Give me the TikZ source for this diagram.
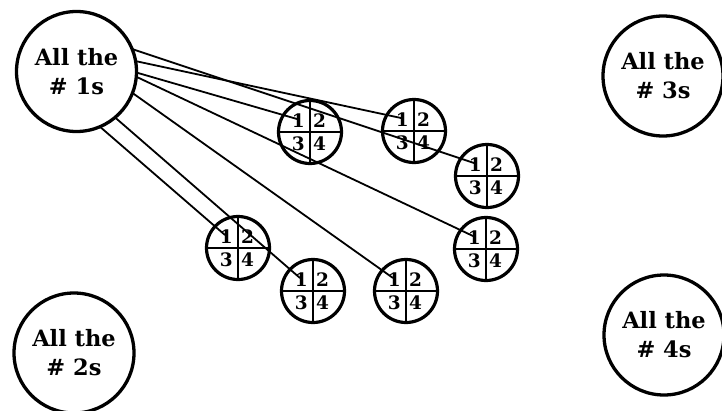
\documentclass[tikz,border=0pt]{standalone}
\usepackage{fontspec}
\setmainfont{DejaVu Serif}
\begin{document}
\begin{tikzpicture}[x=1pt,y=-1pt,
  big/.style={circle,draw,line width=3.3pt,minimum size=120pt,inner sep=0pt,outer sep=0pt,
    align=center,font=\bfseries\fontsize{22.5}{29}\selectfont},
  small/.style={circle,draw,line width=3.2pt,minimum size=63pt,inner sep=0pt,outer sep=0pt},
  quadline/.style={line width=2.6pt},
  digit/.style={inner sep=0pt,font=\bfseries\fontsize{18.5}{18}\selectfont},
  conn/.style={line width=1.8pt}]
\useasboundingbox (0,0) rectangle (722,410);
\newcommand{\qcircle}[3]{%
  \node[small] (#1) at (#2,#3) {};
  \draw[quadline] (#1.north) -- (#1.south);
  \draw[quadline] (#1.west) -- (#1.east);
  \node[digit,anchor=south east] (#1-one) at ([xshift=-5pt,yshift=4.5pt]#1.center) {1};
  \node[digit,anchor=south west] (#1-two) at ([xshift=3pt,yshift=4.5pt]#1.center) {2};
  \node[digit,anchor=north east] (#1-three) at ([xshift=-5pt,yshift=-4.5pt]#1.center) {3};
  \node[digit,anchor=north west] (#1-four) at ([xshift=3pt,yshift=-4.5pt]#1.center) {4};
  \coordinate (#1-e) at ([xshift=-13pt,yshift=13pt]#1.center);
}
% big circles
\node[big] (n1) at (76.5,71.5) {All the\\\# 1s};
\node[big] (n2) at (74,353) {All the\\\# 2s};
\node[big] (n3) at (663,76) {All the\\\# 3s};
\node[big] (n4) at (664,335) {All the\\\# 4s};
% small quadrant circles
\qcircle{c1}{310}{132}
\qcircle{c2}{414}{131}
\qcircle{c3}{487}{176}
\qcircle{c4}{486}{249}
\qcircle{c5}{238}{248}
\qcircle{c6}{313}{291}
\qcircle{c7}{406}{291}
% connectors
\draw[conn] (n1.22) -- (c3-e);
\draw[conn] (n1.10) -- (c2-e);
\draw[conn] (n1.-1) -- (c1-e);
\draw[conn] (n1.-5) -- (c4-e);
\draw[conn] (n1.-21) -- (c7-e);
\draw[conn] (n1.-50) -- (c6-e);
\draw[conn] (n1.-67) -- (c5-e);
\end{tikzpicture}
\end{document}
